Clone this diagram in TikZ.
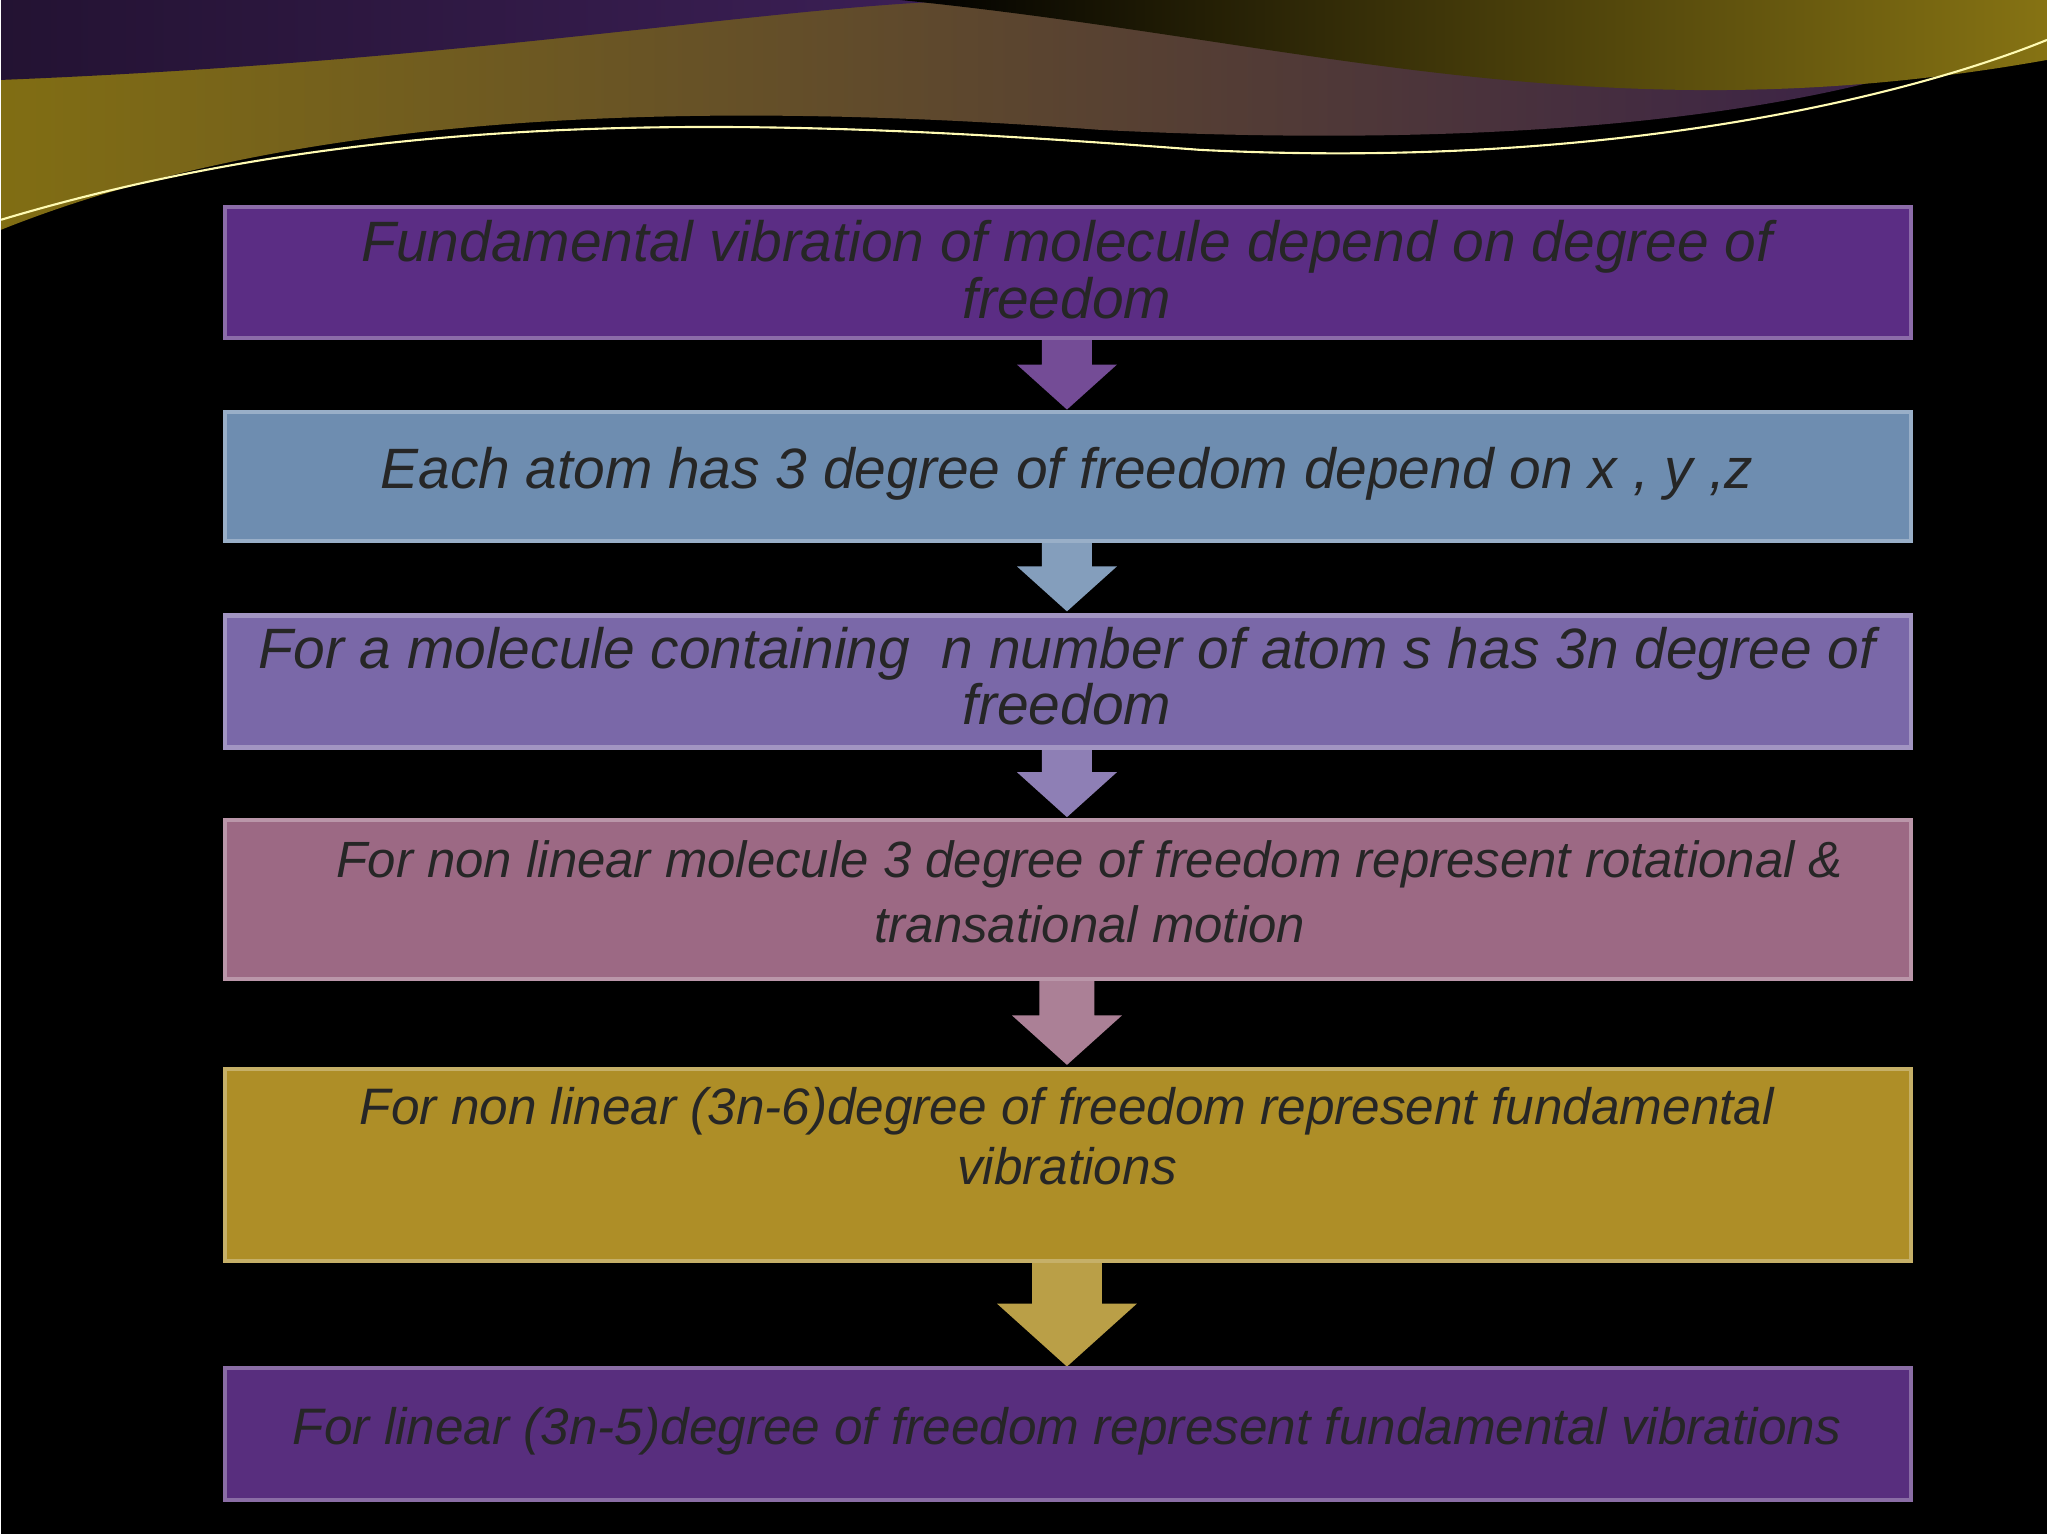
\documentclass[tikz,border=0pt]{standalone}
\usepackage{fontspec}
\setmainfont{Liberation Sans}
\begin{document}
\begin{tikzpicture}[x=0.01cm,y=-0.01cm,
  box/.style={draw=#1!70!white,line width=1.2pt,fill=#1},
  txt/.style={font=\itshape\fontsize{16.2}{18}\selectfont,text=black!85,align=center}]
\definecolor{c1}{HTML}{5B2D84}\definecolor{c2}{HTML}{6E8DB0}\definecolor{c3}{HTML}{7A68A8}
\definecolor{c4}{HTML}{9C6984}\definecolor{c5}{HTML}{AE8E27}\definecolor{c6}{HTML}{582E7E}
\fill[black] (0,0) rectangle (2048,1536);
\shade[left color=black!60!yellow!70!brown,right color=c6!60!black] (0,0) -- (0,230) .. controls (300,110) and (700,100) .. (1100,130) .. controls (1500,150) and (1850,120) .. (2048,20) -- (2048,0) -- cycle;
\shade[left color=c6!40!black,right color=c6!70!black] (0,0) -- (0,80) .. controls (500,60) and (800,0) .. (1000,0) -- cycle;
\shade[left color=black,right color=yellow!50!brown!60!black] (900,0) .. controls (1300,40) and (1600,140) .. (2048,60) -- (2048,0) -- cycle;
\draw[white!70!yellow,line width=0.6pt] (0,220) .. controls (400,100) and (800,120) .. (1200,150) .. controls (1600,170) and (1900,100) .. (2048,40);
\foreach \yt/\yb/\c/\w in {320/410/c1/50, 510/612/c2/50, 720/818/c3/50, 950/1066/c4/55, 1230/1368/c5/70}{
  \pgfmathsetmacro\hw{\w*0.5}\pgfmathsetmacro\hh{\w*1.0}
  \fill[\c!85!white] (1067-\hw,\yt) -- (1067+\hw,\yt) -- (1067+\hw,\yb-\hh*0.9) -- (1067+\hh,\yb-\hh*0.9) -- (1067,\yb) -- (1067-\hh,\yb-\hh*0.9) -- (1067-\hw,\yb-\hh*0.9) -- cycle;
}
\node[box=c1,minimum width=16.87cm,minimum height=1.31cm,anchor=north west] (b1) at (222,205) {};
\node[box=c2,minimum width=16.87cm,minimum height=1.29cm,anchor=north west] (b2) at (222,410) {};
\node[box=c3,minimum width=16.87cm,minimum height=1.32cm,anchor=north west] (b3) at (222,614) {};
\node[box=c4,minimum width=16.87cm,minimum height=1.59cm,anchor=north west] (b4) at (222,819) {};
\node[box=c5,minimum width=16.87cm,minimum height=1.92cm,anchor=north west] (b5) at (222,1068) {};
\node[box=c6,minimum width=16.87cm,minimum height=1.32cm,anchor=north west] (b6) at (222,1367) {};
\node[txt] (t1) at (1067,270) {Fundamental vibration of molecule depend on degree of\\[-2pt]freedom};
\node[txt] (t2) at (1067,474) {Each atom has 3 degree of freedom depend on x , y ,z};
\node[txt] (t3) at (1067,677) {For a molecule containing \ n number of atom s has 3n degree of\\[-2pt]freedom};
\node[txt,font=\itshape\fontsize{14.5}{18.5}\selectfont] (t4) at (1090,893) {For non linear molecule 3 degree of freedom represent rotational \&\\transational motion};
\node[txt,font=\itshape\fontsize{14.6}{17}\selectfont] (t5) at (1067,1137) {For non linear (3n-6)degree of freedom represent fundamental\\vibrations};
\node[txt,font=\itshape\fontsize{14.6}{17}\selectfont] (t6) at (1067,1433) {For linear (3n-5)degree of freedom represent fundamental vibrations};
\end{tikzpicture}
\end{document}
